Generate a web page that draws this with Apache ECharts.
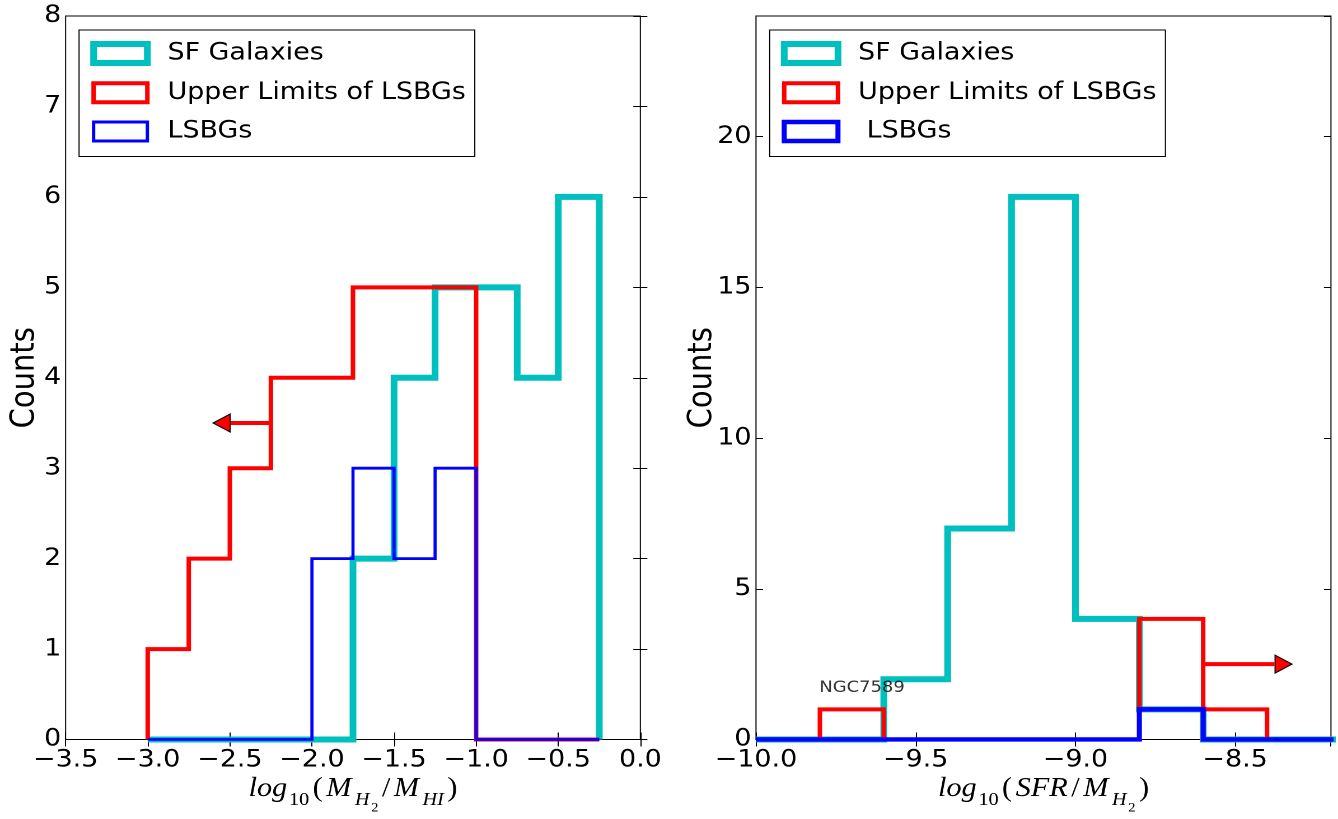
<!DOCTYPE html>
<html>
<head>
<meta charset="utf-8">
<script src="https://cdn.jsdelivr.net/npm/echarts@6/dist/echarts.min.js"></script>
<style>
  html, body { margin: 0; padding: 0; background: #fff; overflow: hidden; }
  /* the source figure is stretched horizontally, so is this one */
  #chart { width: 1195px; height: 819px; transform: scaleX(1.11967); transform-origin: 0 0; }
</style>
</head>
<body>
<div id="chart"></div>
<script>
// left panel: log10(M_H2 / M_HI), bin edges and counts
const edgesLeft = [-3.0, -2.75, -2.5, -2.25, -2.0, -1.75, -1.5, -1.25, -1.0, -0.75, -0.5, -0.25];
const sfLeft = [0, 0, 0, 0, 0, 2, 4, 5, 5, 4, 6];
const ulLeft = [1, 2, 3, 4, 4, 5, 5, 5, 0, 0, 0];
const lsbLeft = [0, 0, 0, 0, 2, 3, 2, 3, 0, 0, 0];

// right panel: log10(SFR / M_H2)
const edgesRight = [-10.0, -9.8, -9.6, -9.4, -9.2, -9.0, -8.8, -8.6, -8.4, -8.2, -8.0];
const sfRight = [0, 0, 2, 7, 18, 4, 1, 0, 0, 0];
const edgesUlRight = [-9.8, -9.6, -9.4, -9.2, -9.0, -8.8, -8.6, -8.4];
const ulRight = [1, 0, 0, 0, 0, 4, 1];
const lsbRight = [0, 0, 0, 0, 0, 0, 1, 0, 0, 0];

// axis ranges [min, max, step]
const xLeft = [-3.5, 0, 0.5];
const yLeft = [0, 8, 1];
const xRight = [-10, -8.2, 0.5];
const yRight = [0, 24, 5];

// limit arrows: [start x, head base x, tip x, y]
const arrowLeft = [-2.25, -2.5, -2.6, 3.5];
const arrowRight = [-8.6, -8.377, -8.32, 2.5];
const note = ['NGC7589', -9.8, 1.5];

const names = ['SF Galaxies', 'Upper Limits of LSBGs', 'LSBGs', ' LSBGs'];

const CYAN = '#00bfbf', RED = '#ff0000', BLUE = '#0000ff';
const FONT = 'DejaVu Sans';
const MATH = 'Liberation Serif';

function steps(edges, counts) {
  const pts = [[edges[0], 0]];
  counts.forEach((c, i) => {
    pts.push([edges[i], c], [edges[i + 1], c]);
  });
  pts.push([edges[edges.length - 1], 0]);
  return pts;
}

function minus(v, d) {
  const s = Math.abs(v).toFixed(d);
  return v < -1e-9 ? '\u2212' + s : s;
}

function hist(name, edges, counts, color, width, p, z) {
  return {
    type: 'line', name: name, xAxisIndex: p * 2, yAxisIndex: p * 2,
    data: steps(edges, counts), symbol: 'none', silent: true, z: z,
    lineStyle: { color: color, width: width, join: 'miter', cap: 'butt' },
    itemStyle: { color: color }
  };
}

function arrow(a, p, rot) {
  return [{
    type: 'line', xAxisIndex: p * 2, yAxisIndex: p * 2, symbol: 'none', silent: true, z: 5,
    data: [[a[0], a[3]], [a[1], a[3]]],
    lineStyle: { color: RED, width: 4, cap: 'butt' }
  }, {
    type: 'scatter', xAxisIndex: p * 2, yAxisIndex: p * 2, silent: true, z: 6,
    data: [[(a[1] + a[2]) / 2, a[3]]],
    symbol: 'triangle', symbolSize: [18, 15.2], symbolRotate: rot,
    itemStyle: { color: RED, borderColor: '#000', borderWidth: 1, opacity: 1 }
  }];
}

// math-style axis titles: padding-top pushes the subscripts down
const rich = {
  i: { fontFamily: MATH, fontStyle: 'italic', fontSize: 27, verticalAlign: 'top', color: '#000', padding: [0, 1.6, 0, 1.6] },
  r: { fontFamily: MATH, fontSize: 27, verticalAlign: 'top', color: '#000', padding: [0, 1.6, 0, 1.6] },
  d: { fontFamily: MATH, fontSize: 18, verticalAlign: 'top', color: '#000', padding: [16, 1.5, 0, 0] },
  s: { fontFamily: MATH, fontStyle: 'italic', fontSize: 18, verticalAlign: 'top', color: '#000', padding: [16, 1.5, 0, 1.5] },
  ss: { fontFamily: MATH, fontSize: 13, verticalAlign: 'top', color: '#000', padding: [26, 1.5, 0, 0] }
};

function xAxes(r, g, label) {
  const base = {
    type: 'value', gridIndex: g, min: r[0], max: r[1], interval: r[2],
    axisLine: { show: false }, splitLine: { show: false },
    axisTick: { show: true, inside: true, length: 7, lineStyle: { color: '#000', width: 1 } }
  };
  return [Object.assign({}, base, {
    position: 'bottom', name: label, nameLocation: 'middle', nameGap: 36, nameMoveOverlap: false,
    nameTextStyle: { rich: rich },
    axisLabel: { show: true, margin: 9, fontFamily: FONT, fontSize: 24, color: '#000',
      showMaxLabel: g === 0, formatter: v => minus(v, 1) }
  }), Object.assign({}, base, { position: 'top', axisLabel: { show: false } })];
}

function yAxes(r, g, gap) {
  const base = {
    type: 'value', gridIndex: g, min: r[0], max: r[1], interval: r[2],
    axisLine: { show: false }, splitLine: { show: false },
    axisTick: { show: true, inside: true, length: 6.3, lineStyle: { color: '#000', width: 1 } }
  };
  return [Object.assign({}, base, {
    position: 'left', name: 'Counts', nameLocation: 'middle', nameGap: gap, nameMoveOverlap: false,
    nameTextStyle: { fontFamily: FONT, fontSize: 29, color: '#000' },
    axisLabel: { show: true, margin: 4, fontFamily: FONT, fontSize: 24, color: '#000',
      showMaxLabel: g === 0, formatter: v => String(v) }
  }), Object.assign({}, base, { position: 'right', axisLabel: { show: false } })];
}

function legend(left, list, blueWidth) {
  const widths = [6, 4, blueWidth];
  const colors = [CYAN, RED, BLUE];
  return {
    orient: 'vertical', left: left, top: 30, selectedMode: false,
    backgroundColor: '#fff', borderColor: '#000', borderWidth: 1,
    padding: [11, 8, 13, 10], itemGap: 14.75, itemWidth: 48, itemHeight: 19,
    textStyle: { fontFamily: FONT, fontSize: 24, color: '#000', padding: [0, 0, 0, 13] },
    data: list.map((n, k) => ({
      name: n, icon: 'rect',
      itemStyle: { color: '#fff', borderColor: colors[k], borderWidth: widths[k] }
    }))
  };
}

const chart = echarts.init(document.getElementById('chart'), null, { devicePixelRatio: 2 });

chart.setOption({
  animation: false,
  backgroundColor: '#fff',
  textStyle: { fontFamily: FONT },
  grid: [
    { left: 58.6, top: 16, width: 513.3, height: 723.5, show: true, borderColor: '#000', borderWidth: 1,
      backgroundColor: 'transparent', containLabel: false, outerBoundsMode: 'none' },
    { left: 675.2, top: 16, width: 513.5, height: 723.5, show: true, borderColor: '#000', borderWidth: 1,
      backgroundColor: 'transparent', containLabel: false, outerBoundsMode: 'none' }
  ],
  xAxis: [
    ...xAxes(xLeft, 0, '{i|log}{d|10}{r|(}{i|M}{s|H}{ss|2}{r|/}{i|M}{s|HI}{r|)}'),
    ...xAxes(xRight, 1, '{i|log}{d|10}{r|(}{i|SFR}{r|/}{i|M}{s|H}{ss|2}{r|)}')
  ],
  yAxis: [...yAxes(yLeft, 0, 21.5), ...yAxes(yRight, 1, 33)],
  legend: [
    legend(70.6, [names[0], names[1], names[2]], 3),
    legend(687.4, [names[0], names[1], names[3]], 4.5)
  ],
  series: [
    hist(names[0], edgesLeft, sfLeft, CYAN, 6, 0, 2),
    hist(names[1], edgesLeft, ulLeft, RED, 4, 0, 3),
    hist(names[2], edgesLeft, lsbLeft, BLUE, 2.8, 0, 4),
    ...arrow(arrowLeft, 0, 90),
    hist(names[0], edgesRight, sfRight, CYAN, 6, 1, 2),
    hist(names[1], edgesUlRight, ulRight, RED, 4, 1, 3),
    hist(names[3], edgesRight, lsbRight, BLUE, 4.5, 1, 4),
    ...arrow(arrowRight, 1, -90),
    {
      type: 'scatter', xAxisIndex: 2, yAxisIndex: 2, silent: true, z: 7,
      data: [[note[1], note[2]]], symbolSize: 1, itemStyle: { color: 'rgba(0,0,0,0)' },
      label: { show: true, formatter: note[0], position: [0, 0], align: 'left', verticalAlign: 'bottom',
        offset: [0, 2], fontFamily: FONT, fontSize: 16, color: '#000' }
    }
  ]
});
</script>
</body>
</html>
